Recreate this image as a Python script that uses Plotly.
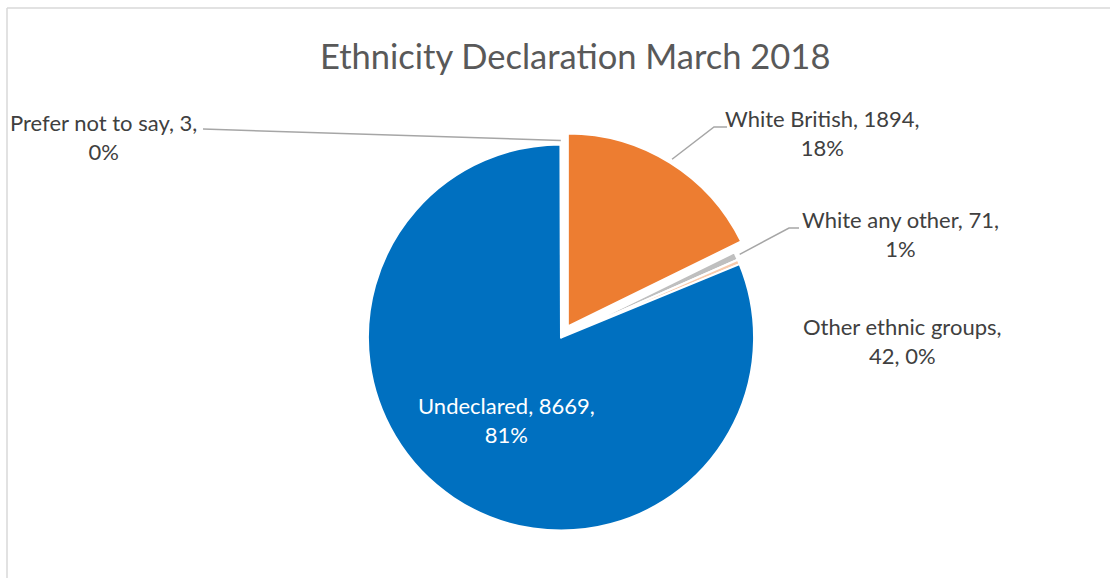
import math
import plotly.graph_objects as go

# ---- data ----
labels = ["White British", "White any other", "Other ethnic groups", "Undeclared", "Prefer not to say"]
values = [1894, 71, 42, 8669, 3]
colors = ["#ED7D31", "#BFBFBF", "#F8CBAD", "#0070C0", "#BDD7EE"]
pulls = [0.067, 0, 0, 0, 0]
title_text = "Ethnicity Declaration March 2018"

W, H = 1110, 578
total = sum(values)

# pie placement (pixels)
CX, CY = 561, 337.5
HALF = 206
dom_x = [(CX - HALF) / W, (CX + HALF) / W]
dom_y = [(H - CY - HALF) / H, (H - CY + HALF) / H]
R = HALF / (1 + max(pulls))


def px(x, y):
    return x / W, 1 - y / H


fig = go.Figure(go.Pie(
    labels=labels, values=values, sort=False, direction="clockwise", rotation=0,
    marker=dict(colors=colors, line=dict(color="white", width=2)),
    pull=pulls, textinfo="none", hoverinfo="label+value+percent",
    domain=dict(x=dom_x, y=dom_y), showlegend=False,
))

# label positions (pixel centres) and leader line layout
label_pos = {
    "Prefer not to say": (103, 137),
    "White British": (822, 133),
    "White any other": (900, 234),
    "Other ethnic groups": (902, 341),
    "Undeclared": (506, 420),
}
label_text = {}
for lab, v in zip(labels, values):
    pct = round(100 * v / total)
    if lab == "Other ethnic groups":
        label_text[lab] = f"{lab},<br>{v}, {pct}%"
    else:
        label_text[lab] = f"{lab}, {v},<br>{pct}%"

annotations = [dict(
    text=title_text, xref="paper", yref="paper", x=575 / W, y=1 - 55 / H,
    xanchor="center", yanchor="middle", showarrow=False,
    font=dict(family="Lato", size=34.5, color="#595959"))]
for lab in labels:
    x, y = px(*label_pos[lab])
    annotations.append(dict(
        text=label_text[lab], xref="paper", yref="paper", x=x, y=y,
        xanchor="center", yanchor="middle", showarrow=False, align="center",
        font=dict(family="Lato", size=22,
                  color="white" if lab == "Undeclared" else "#404040")))

# leader lines from slice mid-angles
cum = 0
mid = {}
for lab, v, p in zip(labels, values, pulls):
    a = (cum + v / 2) / total * 2 * math.pi
    mid[lab] = (a, p)
    cum += v


def edge_point(lab, extra=0.0):
    a, p = mid[lab]
    rr = R * (1 + p) + extra
    return CX + rr * math.sin(a), CY - rr * math.cos(a)


leaders = {
    "White British": [(714, 127), (727, 127)],
    "White any other": [(789, 228), (799, 228)],
    "Prefer not to say": [(203, 129)],
}
shapes = []
for lab, pts in leaders.items():
    s = edge_point(lab, 4)
    all_pts = [s] + pts
    path = "M " + " L ".join(f"{px(x, y)[0]},{px(x, y)[1]}" for x, y in all_pts)
    shapes.append(dict(type="path", path=path, xref="paper", yref="paper",
                       line=dict(color="#A6A6A6", width=1.5)))

# chart frame
shapes.append(dict(type="line", xref="paper", yref="paper", x0=7 / W, x1=1.0,
                   y0=1 - 8 / H, y1=1 - 8 / H, line=dict(color="#D9D9D9", width=1.5)))
shapes.append(dict(type="line", xref="paper", yref="paper", x0=7 / W, x1=7 / W,
                   y0=0, y1=1 - 8 / H, line=dict(color="#D9D9D9", width=1.5)))

fig.update_layout(
    width=W, height=H, margin=dict(l=0, r=0, t=0, b=0),
    paper_bgcolor="white", plot_bgcolor="white",
    annotations=annotations, shapes=shapes,
)

fig.write_html("out.html", config={"displayModeBar": False},
               post_script="document.body.style.margin='0';")
